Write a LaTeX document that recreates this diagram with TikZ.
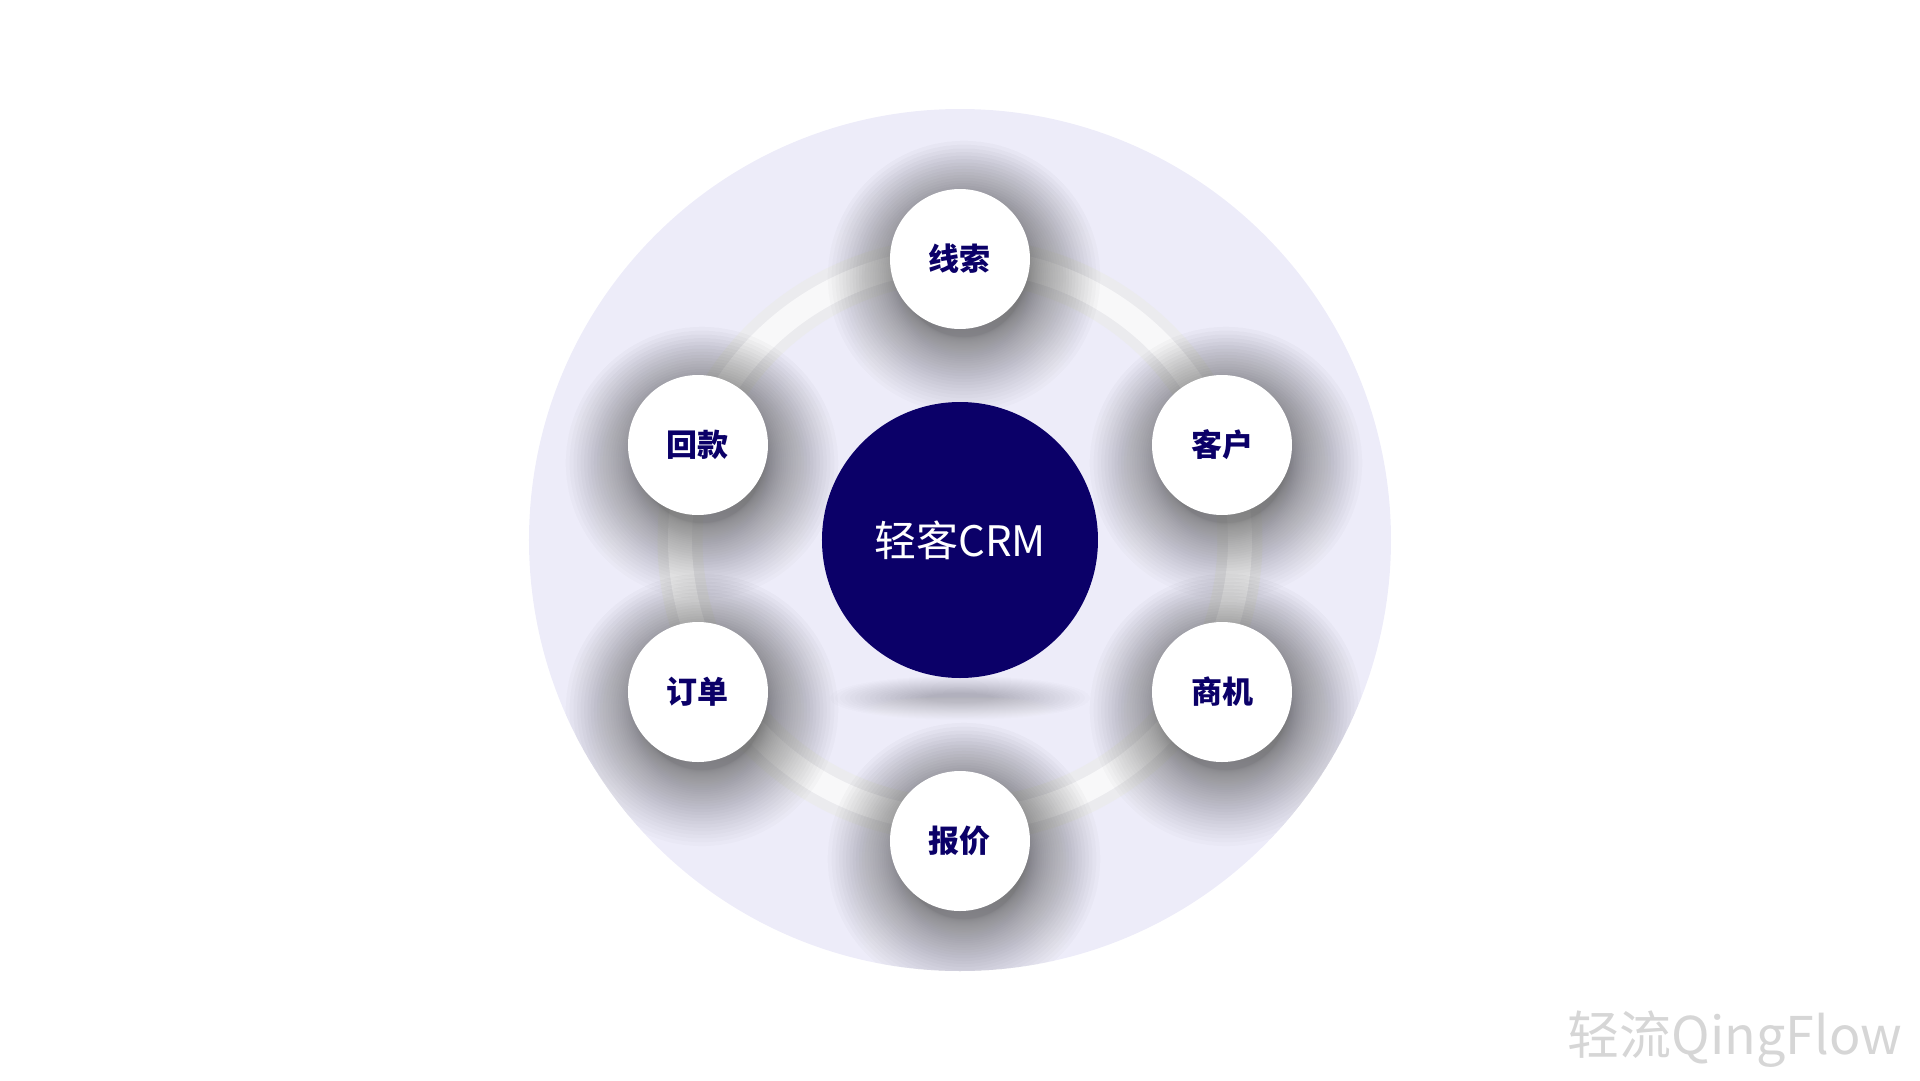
\documentclass[tikz,border=0pt]{standalone}
\usepackage{fontspec}
\newfontfamily\cjk{Noto Sans CJK SC}
\definecolor{navy}{HTML}{0B0068}
\definecolor{lavender}{HTML}{EDECF9}
\definecolor{ringgray}{HTML}{EBEBEE}
\definecolor{shade}{HTML}{4A4A72}
\definecolor{markgray}{HTML}{D6D6D6}

\begin{document}
\begin{tikzpicture}[x=1pt,y=1pt,
  satellite/.style={circle,fill=white,minimum size=140pt,inner sep=0pt,text=navy,font=\cjk\bfseries\fontsize{31}{31}\selectfont},
  hub/.style={circle,fill=navy,minimum size=276pt,inner sep=0pt,text=white,font=\cjk\fontsize{42}{42}\selectfont}]
  \useasboundingbox (-960,-540) rectangle (960,540);
  % backdrop and track
  \fill[lavender] (0,0) circle (431);
  \draw[ringgray,line width=45pt] (0,0) circle (280);
  \draw[white,opacity=0.65,line width=24pt] (0,0) circle (280);
  % soft shadows, kept inside the backdrop
  \begin{scope}
    \clip (0,0) circle (431);
    \foreach \px/\py in {0/281, 262/95, 262/-152, 0/-301, -262/-152, -262/95}{
      \foreach \k in {0,...,39}
        \fill[shade,opacity=0.014] ({\px+4},{\py-18}) circle ({60+0.05*\k*\k});
    }
    \foreach \k in {0,...,19}
      \fill[shade,opacity=0.009] (0,-158) ellipse ({130-5*\k} and {22-0.9*\k});
  \end{scope}
  % nodes
  \node[hub] (crm) at (0,0) {轻客CRM};
  \node[satellite] (clue) at (0,281) {线索};
  \node[satellite] (client) at (262,95) {客户};
  \node[satellite] (oppty) at (262,-152) {商机};
  \node[satellite] (quote) at (0,-301) {报价};
  \node[satellite] (order) at (-262,-152) {订单};
  \node[satellite] (payback) at (-262,95) {回款};
  \node[text=markgray,font=\cjk\fontsize{52}{52}\selectfont] (mark) at (775,-499) {轻流QingFlow};
\end{tikzpicture}
\end{document}
